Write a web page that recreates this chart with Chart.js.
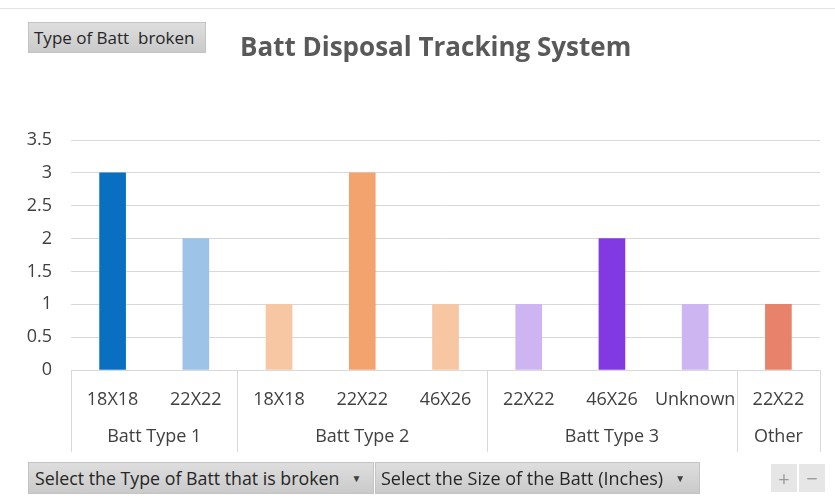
<!DOCTYPE html>
<html>
<head>
<meta charset="utf-8">
<script src="https://cdn.jsdelivr.net/npm/chart.js@4/dist/chart.umd.min.js"></script>
<style>
  html, body { margin: 0; padding: 0; background: #fff; }
  body { width: 835px; height: 500px; position: relative; overflow: hidden; font-family: "Open Sans", "Noto Sans", sans-serif; }
  #wrap { position: absolute; left: 0; top: 0; width: 835px; height: 500px; }
  .topline { position: absolute; left: 0; top: 8px; width: 835px; height: 1px; background: #e3e3e3; }
  .field { position: absolute; box-sizing: border-box; background: linear-gradient(#dedede, #cacaca); border: 1px solid #c4c4c4; color: #262626; white-space: nowrap; display: flex; align-items: center; }
  #typeBtn { left: 28px; top: 22px; width: 178px; height: 31px; font-size: 17px; padding-left: 5px; }
  #title { position: absolute; left: 240px; top: 28px; font-size: 26px; font-weight: bold; color: #595959; white-space: nowrap; line-height: 36px; }
  #sel1 { left: 28px; top: 462px; width: 346px; height: 32px; font-size: 17.8px; padding-left: 6px; }
  #sel2 { left: 375px; top: 462px; width: 325px; height: 32px; font-size: 18px; padding-left: 5px; }
  .arrow { font-size: 10px; margin-left: 12px; color: #404040; }
  .pm { position: absolute; top: 464px; width: 26px; height: 28px; background: #e6e6e6; color: #9a9a9a; font-size: 20px; display: flex; align-items: center; justify-content: center; }
</style>
</head>
<body>
<div class="topline"></div>
<div id="wrap"><canvas id="chart" width="835" height="500"></canvas></div>
<div class="field" id="typeBtn">Type of Batt&nbsp; broken</div>
<div id="title">Batt Disposal Tracking System</div>
<div class="field" id="sel1">Select the Type of Batt that is broken<span class="arrow">&#9660;</span></div>
<div class="field" id="sel2">Select the Size of the Batt (Inches)<span class="arrow">&#9660;</span></div>
<div class="pm" style="left:771px;">+</div>
<div class="pm" style="left:799px;">&minus;</div>
<script>
// Batt sizes (inner axis level) and their battery type group (outer level)
const sizes  = ["18X18", "22X22", "18X18", "22X22", "46X26", "22X22", "46X26", "Unknown", "22X22"];
const groups = ["Batt Type 1", "Batt Type 1", "Batt Type 2", "Batt Type 2", "Batt Type 2",
                "Batt Type 3", "Batt Type 3", "Batt Type 3", "Other"];
// Count of broken batts per size
const counts = [3, 2, 1, 3, 1, 1, 2, 1, 1];
const barColors = ["#0b6fc1", "#9dc3e6", "#f7c6a2", "#f3a46e", "#f7c6a2",
                   "#cdb5f1", "#8139e1", "#cdb5f1", "#e8836b"];
const yTicks = [0, 0.5, 1, 1.5, 2, 2.5, 3, 3.5];

const axisColor = "#d9d9d9";
const textColor = "#404040";
const fontFamily = "'Open Sans', 'Noto Sans', sans-serif";

// Second-level category labels with separators below the x axis
const groupAxis = {
  id: "groupAxis",
  afterDraw(chart) {
    const ctx = chart.ctx;
    const x = chart.scales.x;
    const area = chart.chartArea;
    const top = area.bottom;
    const bottom = top + 82;
    const bounds = [];
    let start = 0;
    for (let i = 1; i <= groups.length; i++) {
      if (i === groups.length || groups[i] !== groups[start]) {
        const left = start === 0 ? area.left : (x.getPixelForValue(start - 1) + x.getPixelForValue(start)) / 2;
        const right = i === groups.length ? area.right : (x.getPixelForValue(i - 1) + x.getPixelForValue(i)) / 2;
        bounds.push({ name: groups[start], left, right });
        start = i;
      }
    }
    ctx.save();
    ctx.strokeStyle = axisColor;
    ctx.lineWidth = 1;
    ctx.beginPath();
    const edges = new Set();
    bounds.forEach(b => { edges.add(Math.round(b.left) + 0.5); edges.add(Math.round(b.right) + 0.5); });
    edges.forEach(px => { ctx.moveTo(px, top); ctx.lineTo(px, bottom); });
    ctx.stroke();
    ctx.fillStyle = textColor;
    ctx.font = "18px " + fontFamily;
    ctx.textAlign = "center";
    ctx.textBaseline = "middle";
    bounds.forEach(b => ctx.fillText(b.name, (b.left + b.right) / 2, top + 67));
    ctx.restore();
  }
};

new Chart(document.getElementById("chart"), {
  type: "bar",
  data: {
    labels: sizes,
    datasets: [{
      data: counts,
      backgroundColor: barColors,
      borderWidth: 0,
      barThickness: 26
    }]
  },
  options: {
    responsive: false,
    animation: false,
    layout: { padding: { top: 140, right: 15, bottom: 48, left: 0 } },
    plugins: { legend: { display: false }, tooltip: { enabled: false }, title: { display: false } },
    scales: {
      x: {
        grid: { display: false },
        border: { display: true, color: axisColor, width: 1 },
        ticks: { color: textColor, font: { family: fontFamily, size: 18 }, padding: 11, maxRotation: 0, autoSkip: false },
        afterFit(scale) { scale.height = 82; }
      },
      y: {
        min: 0,
        max: 3.5,
        afterBuildTicks(scale) { scale.ticks = yTicks.map(v => ({ value: v })); },
        grid: { color: axisColor, drawTicks: false, lineWidth: 1 },
        border: { display: false },
        ticks: { color: textColor, font: { family: fontFamily, size: 18 }, padding: 19, callback: v => String(v) },
        afterFit(scale) { scale.width = 71; }
      }
    }
  },
  plugins: [groupAxis]
});
</script>
</body>
</html>
